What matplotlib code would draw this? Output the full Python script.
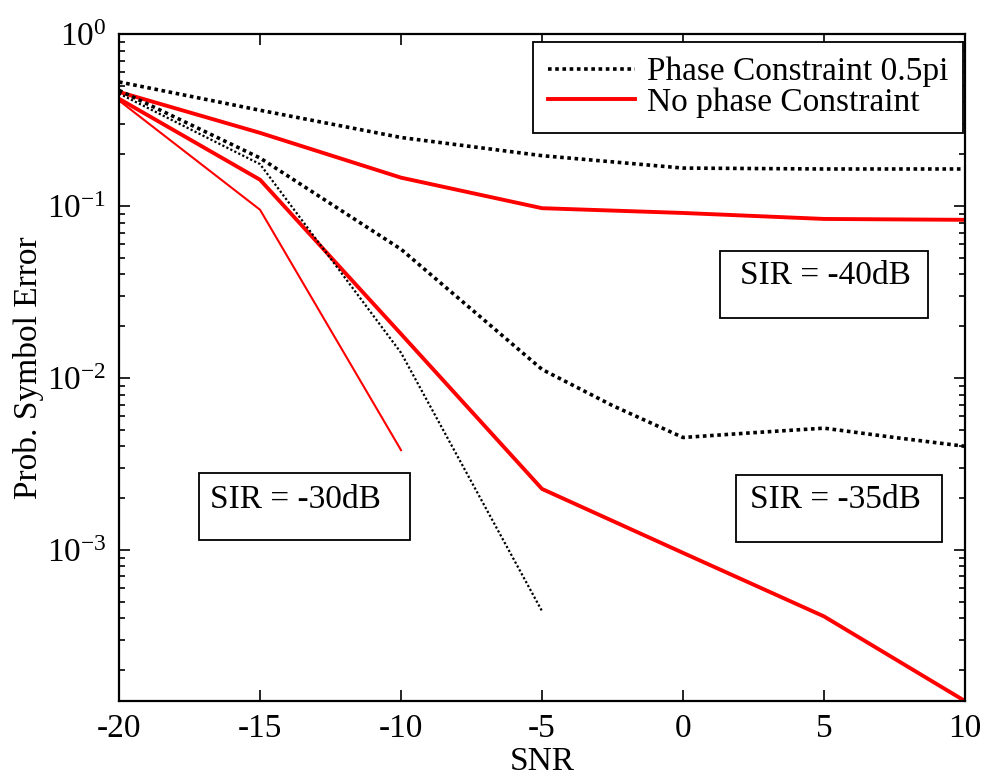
#import libraries
import math
import matplotlib
matplotlib.use("Agg")
import matplotlib.pyplot as plt
from matplotlib.patches import Rectangle
from matplotlib.ticker import LogLocator, FuncFormatter, NullFormatter

#Fonts
plt.rcParams['font.family'] = ['Liberation Serif', 'DejaVu Serif']
plt.rcParams['mathtext.default'] = 'regular'

#Data
snr = [-20, -15, -10, -5, 0, 5, 10]

# SIR = -40dB
pc_40 = [0.526, 0.36, 0.25, 0.196, 0.166, 0.164, 0.164]
np_40 = [0.46, 0.266, 0.146, 0.097, 0.091, 0.084, 0.083]

# SIR = -35dB
snr_pc_35 = [-20, -15, -10, -5, -2.5, 0, 2.5, 5, 7.5, 10]
pc_35 = [0.47, 0.19, 0.056, 0.0112, 0.0069, 0.0045, 0.0048, 0.0051, 0.0045, 0.0040]
np_35 = [0.42, 0.142, 0.018, 0.00226, 0.00096, 0.00041, 0.000132]

# SIR = -30dB
snr_30 = [-20, -15, -10, -5]
pc_30 = [0.45, 0.175, 0.014, 0.00044]
np_30 = [0.41, 0.095, 0.0038]

legend_labels = ["Phase Constraint 0.5pi", "No phase Constraint"]
x_ticks = [-20, -15, -10, -5, 0, 5, 10]
sir_labels = ["SIR = -40dB", "SIR = -35dB", "SIR = -30dB"]

FS = 24

#Figure
fig = plt.figure(figsize=(9.87, 7.81), dpi=100)
ax = fig.add_axes([0.1206, 0.1024, 0.8571, 0.8541])

dot_style = dict(color="black", linestyle=(0, (1, 1)))

ax.plot(snr, pc_40, lw=2.6, label=legend_labels[0], **dot_style)
ax.plot(snr, np_40, color="red", lw=2.8, label=legend_labels[1])
ax.plot(snr_pc_35, pc_35, lw=2.6, **dot_style)
ax.plot(snr, np_35, color="red", lw=2.8)
ax.plot(snr_30, pc_30, lw=1.6, **dot_style)
ax.plot(snr_30[:3], np_30, color="red", lw=1.5)

ax.set_yscale("log")
ax.set_xlim(-20, 10)
ax.set_ylim(1.32e-4, 1)
ax.set_xticks(x_ticks)
ax.set_xticklabels([str(t) for t in x_ticks])
ax.yaxis.set_major_locator(LogLocator(base=10, numticks=10))
ax.yaxis.set_minor_locator(LogLocator(base=10, subs=range(2, 10), numticks=20))
ax.yaxis.set_major_formatter(FuncFormatter(lambda v, p: r"$10^{%d}$" % round(math.log10(v))))
ax.yaxis.set_minor_formatter(NullFormatter())

ax.tick_params(which="both", direction="in", top=True, right=True, width=1.2, labelsize=FS, colors="black")
ax.tick_params(which="major", length=8, pad=9)
ax.tick_params(which="minor", length=4)
for s in ax.spines.values():
    s.set_linewidth(1.6)

ax.set_xlabel("SNR", fontsize=FS, labelpad=2)
ax.set_ylabel("Prob. Symbol Error", fontsize=FS, labelpad=2)

leg = ax.legend(loc="upper right", bbox_to_anchor=(0.9976, 0.988), borderaxespad=0,
                fontsize=FS, frameon=True, fancybox=False, framealpha=1,
                edgecolor="black", handlelength=2.6, handletextpad=0.35,
                borderpad=0.45, labelspacing=0.0)
leg.get_frame().set_linewidth(1.3)

#SIR boxes (axes fraction: x0, y0, x1, y1, text x, text y)
boxes = [
    (0.7104, 0.5742, 0.9563, 0.6747, 0.8345, 0.6372),
    (0.7293, 0.2384, 0.9728, 0.3388, 0.8463, 0.3013),
    (0.0946, 0.2414, 0.3440, 0.3418, 0.2080, 0.3013),
]
for label, (x0, y0, x1, y1, tx, ty) in zip(sir_labels, boxes):
    ax.add_patch(Rectangle((x0, y0), x1 - x0, y1 - y0, transform=ax.transAxes,
                           facecolor="white", edgecolor="black", lw=1.3, zorder=4))
    ax.text(tx, ty, label, transform=ax.transAxes, fontsize=FS,
            ha="center", va="center", zorder=5)

fig.savefig("out.png", dpi=100)
